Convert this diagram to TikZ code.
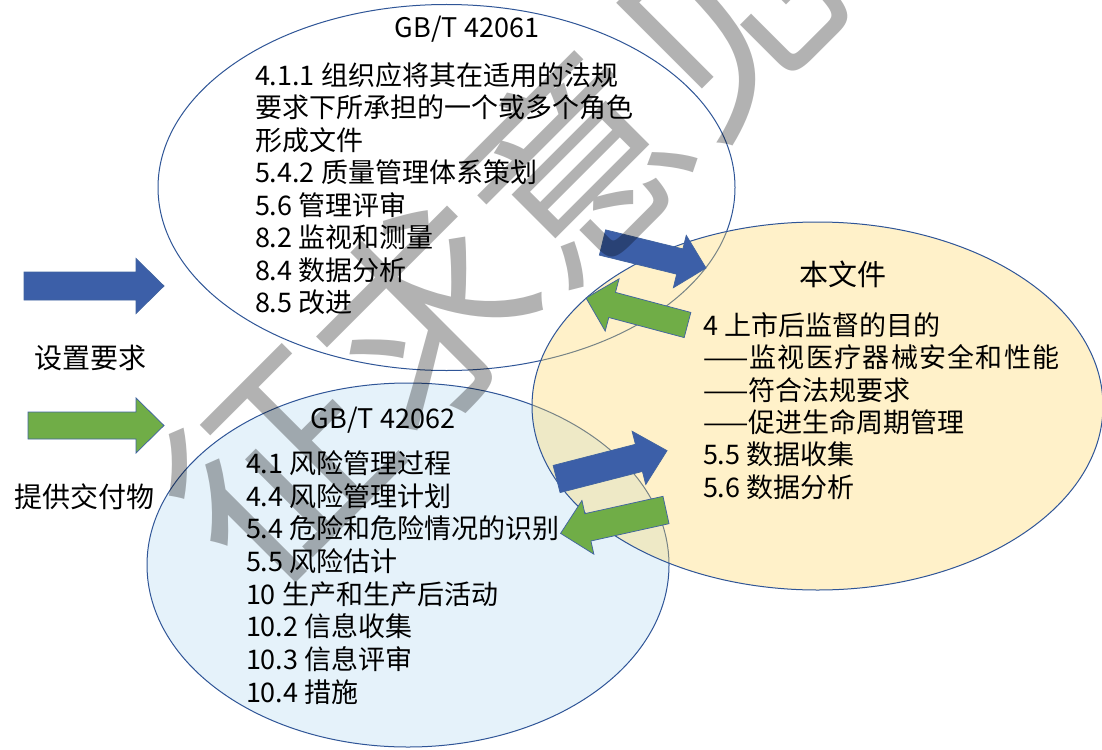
\documentclass[tikz,border=0pt]{standalone}
\usepackage{fontspec}
\setmainfont{Noto Sans CJK SC}
\newfontfamily\wmfont{Noto Sans CJK SC}
\usetikzlibrary{shapes.geometric}
\definecolor{ellline}{RGB}{47,85,151}
\definecolor{bluefill}{RGB}{229,242,250}
\definecolor{yellowfill}{RGB}{255,217,102}
\definecolor{arrowblue}{RGB}{60,95,168}
\definecolor{arrowgreen}{RGB}{112,173,71}
\definecolor{arrowline}{RGB}{65,100,160}
\newcommand\blkarrow[8]{%
  \begin{scope}[shift={(#1,#2)}, rotate=#3]
    \draw[#8] (0,{-#5/2}) -- ({#4-#7},{-#5/2}) -- ({#4-#7},{-#6/2}) -- (#4,0)
      -- ({#4-#7},{#6/2}) -- ({#4-#7},{#5/2}) -- (0,{#5/2}) -- cycle;
  \end{scope}}
\newcommand\chsp{\kern1.3pt}
\begin{document}
\begin{tikzpicture}[x=1pt,y=-1pt,
  every node/.style={inner sep=0pt, outer sep=0pt},
  ell/.style={ellipse, draw=ellline, line width=1pt, inner sep=0pt},
  item/.style={anchor=base west, font=\fontsize{27}{32}\selectfont},
  ttl/.style={anchor=base, font=\fontsize{27}{32}\selectfont},
  lbl/.style={anchor=base, font=\fontsize{28}{32}\selectfont},
  bluearr/.style={fill=arrowblue, draw=arrowline, line width=0.75pt, line join=miter},
  greenarr/.style={fill=arrowgreen, draw=arrowline, line width=0.75pt, line join=miter},
  wm/.style={font=\wmfont\fontsize{212}{212}\selectfont, text=black, text opacity=0.3}]
\useasboundingbox (0,0) rectangle (1102,749);
\fill[white] (0,0) rectangle (1102,749);
% ellipses
\node[ell, minimum width=577pt, minimum height=366pt] (e1) at (446.5,187.5) {};
\node[ell, fill=bluefill, minimum width=522pt, minimum height=364pt] (e2) at (408,565) {};
\node[ell, fill=yellowfill, fill opacity=0.35, draw opacity=1, minimum width=571pt, minimum height=368pt] (e3) at (817.5,406) {};
% top ellipse text
\node[ttl] (t0) at (467,38) {GB/T 42061};
\node[item] (t1) at (255,85.3) {4.1.1 组织应将其在适用的法规};
\node[item] (t2) at (255,117.8) {要求下所承担的一个或多个角色};
\node[item] (t3) at (255,150.3) {形成文件};
\node[item] (t4) at (255,182.8) {5.4.2 质量管理体系策划};
\node[item] (t5) at (255,215.3) {5.6 管理评审};
\node[item] (t6) at (255,247.8) {8.2 监视和测量};
\node[item] (t7) at (255,280.3) {8.4 数据分析};
\node[item] (t8) at (255,312.8) {8.5 改进};
% blue ellipse text
\node[ttl] (b0) at (383,428) {GB/T 42062};
\node[item] (b1) at (246,473.3) {4.1 风险管理过程};
\node[item] (b2) at (246,506) {4.4 风险管理计划};
\node[item] (b3) at (246,538.7) {5.4 危险和危险情况的识别};
\node[item] (b4) at (246,571.4) {5.5 风险估计};
\node[item] (b5) at (246,604.1) {10 生产和生产后活动};
\node[item] (b6) at (246,636.8) {10.2 信息收集};
\node[item] (b7) at (246,669.5) {10.3 信息评审};
\node[item] (b8) at (246,702.2) {10.4 措施};
% yellow ellipse text
\node[anchor=base, font=\fontsize{29}{32}\selectfont] (y0) at (843,285) {本文件};
\node[item] (y1) at (703,335.3) {4 上市后监督的目的};
\node[item] (y2) at (703,367.7) {——\chsp 监\chsp 视\chsp 医\chsp 疗\chsp 器\chsp 械\chsp 安\chsp 全\chsp 和\chsp 性\chsp 能};
\node[item] (y3) at (703,400.1) {——符合法规要求};
\node[item] (y4) at (703,432.5) {——促进生命周期管理};
\node[item] (y5) at (703,464.9) {5.5 数据收集};
\node[item] (y6) at (703,497.3) {5.6 数据分析};
% left labels
\node[lbl] (l1) at (90,368.6) {设置要求};
\node[lbl] (l2) at (84,507.6) {提供交付物};
% block arrows
\blkarrow{24}{286}{0}{140}{28}{55}{28}{bluearr}
\blkarrow{28}{425.5}{0}{136}{27}{55}{28}{greenarr}
\blkarrow{602.5}{242.5}{-13.84}{106.6}{26}{54}{27}{bluearr}
\blkarrow{687.5}{325}{165.1}{105}{26}{54}{27}{greenarr}
\blkarrow{556.6}{479}{14.4}{114}{28}{55}{29}{bluearr}
\blkarrow{666}{510}{192.5}{108}{28}{55}{28}{greenarr}
% watermark
\node[wm, rotate=45] (wmk) at (500,240) {征求意见};
\end{tikzpicture}
\end{document}
